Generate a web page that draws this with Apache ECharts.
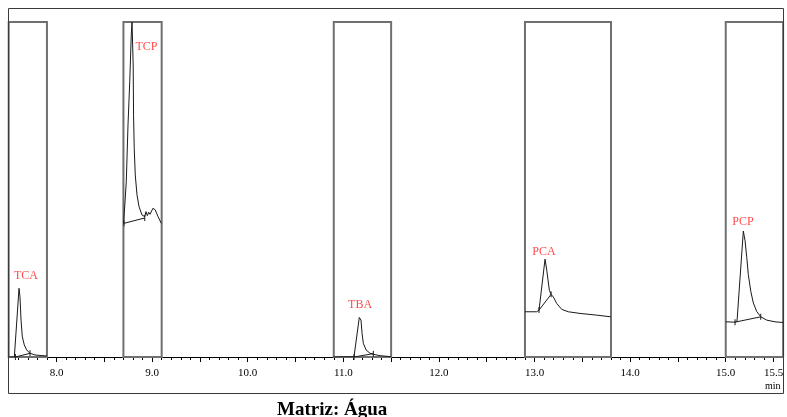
<!DOCTYPE html>
<html>
<head>
<meta charset="utf-8">
<script src="https://cdn.jsdelivr.net/npm/echarts@6/dist/echarts.min.js"></script>
<style>
html,body{margin:0;padding:0;background:#fff;}
#chart{width:787px;height:417px;}
</style>
</head>
<body>
<div id="chart"></div>
<script>
// ---- data (retention time in min, detector response in % of window height) ----
const tickLabels = ['8.0','9.0','10.0','11.0','12.0','13.0','14.0','15.0','15.5'];
const windows = [[7.5,7.9],[8.7,9.1],[10.9,11.5],[12.9,13.8],[15.0,15.6]];

const tcaTrace = [[7.505,0],[7.559,0],[7.573,0],[7.608,20.5],[7.618,18.0],[7.629,11.0],[7.642,6.1],[7.663,3.6],[7.688,2.1],[7.723,1.1],[7.775,0.6],[7.898,0.3]];
const tcpTrace = [[8.702,39.9],[8.706,39.9],[8.730,52.3],[8.748,69.3],[8.766,82.2],[8.782,96.1],[8.790,100],[8.800,100],[8.802,87.2],[8.806,72.2],[8.813,62.3],[8.824,54.3],[8.842,48.4],[8.863,44.9],[8.894,42.4],[8.923,41.9],[8.936,43.4],[8.950,42.2],[8.964,43.2],[8.978,42.6],[9.009,44.4],[9.033,43.9],[9.062,41.9],[9.096,39.9]];
const tbaTrace = [[10.896,0],[11.112,0.1],[11.167,11.8],[11.185,11.0],[11.196,7.1],[11.209,4.1],[11.238,2.1],[11.280,1.1],[11.314,0.8],[11.384,0.4],[11.496,0.1]];
const pcaTrace = [[12.900,13.5],[13.023,13.5],[13.047,14.0],[13.110,29.2],[13.128,25.9],[13.155,19.9],[13.173,18.7],[13.197,17.9],[13.232,16.0],[13.285,14.2],[13.354,13.5],[13.476,13.0],[13.651,12.5],[13.797,12.0]];
const pcpTrace = [[15.000,10.5],[15.097,10.4],[15.118,10.7],[15.184,37.6],[15.202,34.7],[15.220,29.7],[15.236,24.6],[15.262,19.6],[15.289,16.1],[15.324,13.6],[15.366,12.0],[15.429,11.0],[15.516,10.5],[15.599,10.3]];

const tcaBase = [[7.570,0],[7.723,1.1]];
const tcpBase = [[8.706,39.9],[8.923,41.5]];
const tbaBase = [[11.112,0],[11.314,1.0]];
const pcaBase = [[13.047,14.0],[13.173,18.7]];
const pcpBase = [[15.097,10.4],[15.366,12.0]];

const peakNames = ['TCA','TCP','TBA','PCA','PCP'];
const labelTimes = [7.681, 8.941, 11.175, 13.099, 15.181];
const labelHeights = [24.2, 92.5, 15.5, 31.3, 40.3];

// ---- chart ----
const chart = echarts.init(document.getElementById('chart'), null, {renderer:'canvas'});
const serif = "'Liberation Serif','Times New Roman',serif";

function traceSeries(data, extra){
  return Object.assign({
    type:'line', data:data, symbol:'none', silent:true,
    lineStyle:{color:'#1a1a1a', width:1}, z:3, animation:false
  }, extra||{});
}
function baseSeries(data){
  return {
    type:'line', data:data, symbol:'rect', symbolSize:[1,6], showSymbol:true, silent:true,
    itemStyle:{color:'#1a1a1a'}, lineStyle:{color:'#1a1a1a', width:1}, z:4, animation:false
  };
}

const series = [
  traceSeries(tcaTrace, {
    markArea:{
      silent:true,
      itemStyle:{color:'rgba(0,0,0,0)', borderColor:'#707070', borderWidth:2},
      data: windows.map(w => [{xAxis:w[0], yAxis:0},{xAxis:w[1], yAxis:100}])
    }
  }),
  traceSeries(tcpTrace), traceSeries(tbaTrace), traceSeries(pcaTrace), traceSeries(pcpTrace),
  baseSeries(tcaBase), baseSeries(tcpBase), baseSeries(tbaBase), baseSeries(pcaBase), baseSeries(pcpBase),
  {
    type:'scatter', symbolSize:0, silent:true, z:5, animation:false,
    data: peakNames.map((n,i) => ({name:n, value:[labelTimes[i], labelHeights[i]]})),
    label:{show:true, position:'inside', formatter:p => p.name, color:'#ff1a1a',
           fontFamily:serif, fontSize:12}
  }
];

const xMin = 7.5, xMax = 15.6;
chart.setOption({
  animation:false,
  backgroundColor:'#ffffff',
  title:{
    text:'Matriz: Água', left:272, top:396,
    textStyle:{fontFamily:serif, fontWeight:'bold', fontSize:19, color:'#000'}
  },
  grid:{left:8.7, right:3.9, top:22, bottom:60, containLabel:false, outerBoundsMode:'none'},
  xAxis:[
    {
      type:'value', min:xMin, max:xMax, interval:0.1, position:'bottom', offset:0,
      axisLine:{show:true, onZero:false, lineStyle:{color:'#000', width:1}},
      axisTick:{show:true, inside:false, length:3, lineStyle:{color:'#000', width:1}},
      axisLabel:{show:false}, splitLine:{show:false}
    },
    {
      type:'value', min:xMin, max:xMax, interval:0.5, position:'bottom', offset:0,
      axisLine:{show:false, onZero:false},
      axisTick:{show:true, inside:false, length:5, lineStyle:{color:'#000', width:1}},
      axisLabel:{
        show:true, margin:11, interval:0, showMinLabel:true, showMaxLabel:true, hideOverlap:false,
        color:'#000', fontFamily:serif, fontSize:11,
        formatter:v => { const s = (Math.round(v*10)/10).toFixed(1); return tickLabels.indexOf(s) >= 0 ? s : ''; }
      },
      splitLine:{show:false}
    }
  ],
  yAxis:{type:'value', min:0, max:100, show:false, splitLine:{show:false}},
  graphic:[
    {type:'rect', shape:{x:8.5, y:8.5, width:775, height:385}, style:{fill:'none', stroke:'#3a3a3a', lineWidth:1}, z:10, silent:true},
    {type:'text', left:765, top:381, style:{text:'min', font:"10px 'Liberation Serif', serif", fill:'#000'}, z:10, silent:true}
  ],
  series: series
});
</script>
</body>
</html>
